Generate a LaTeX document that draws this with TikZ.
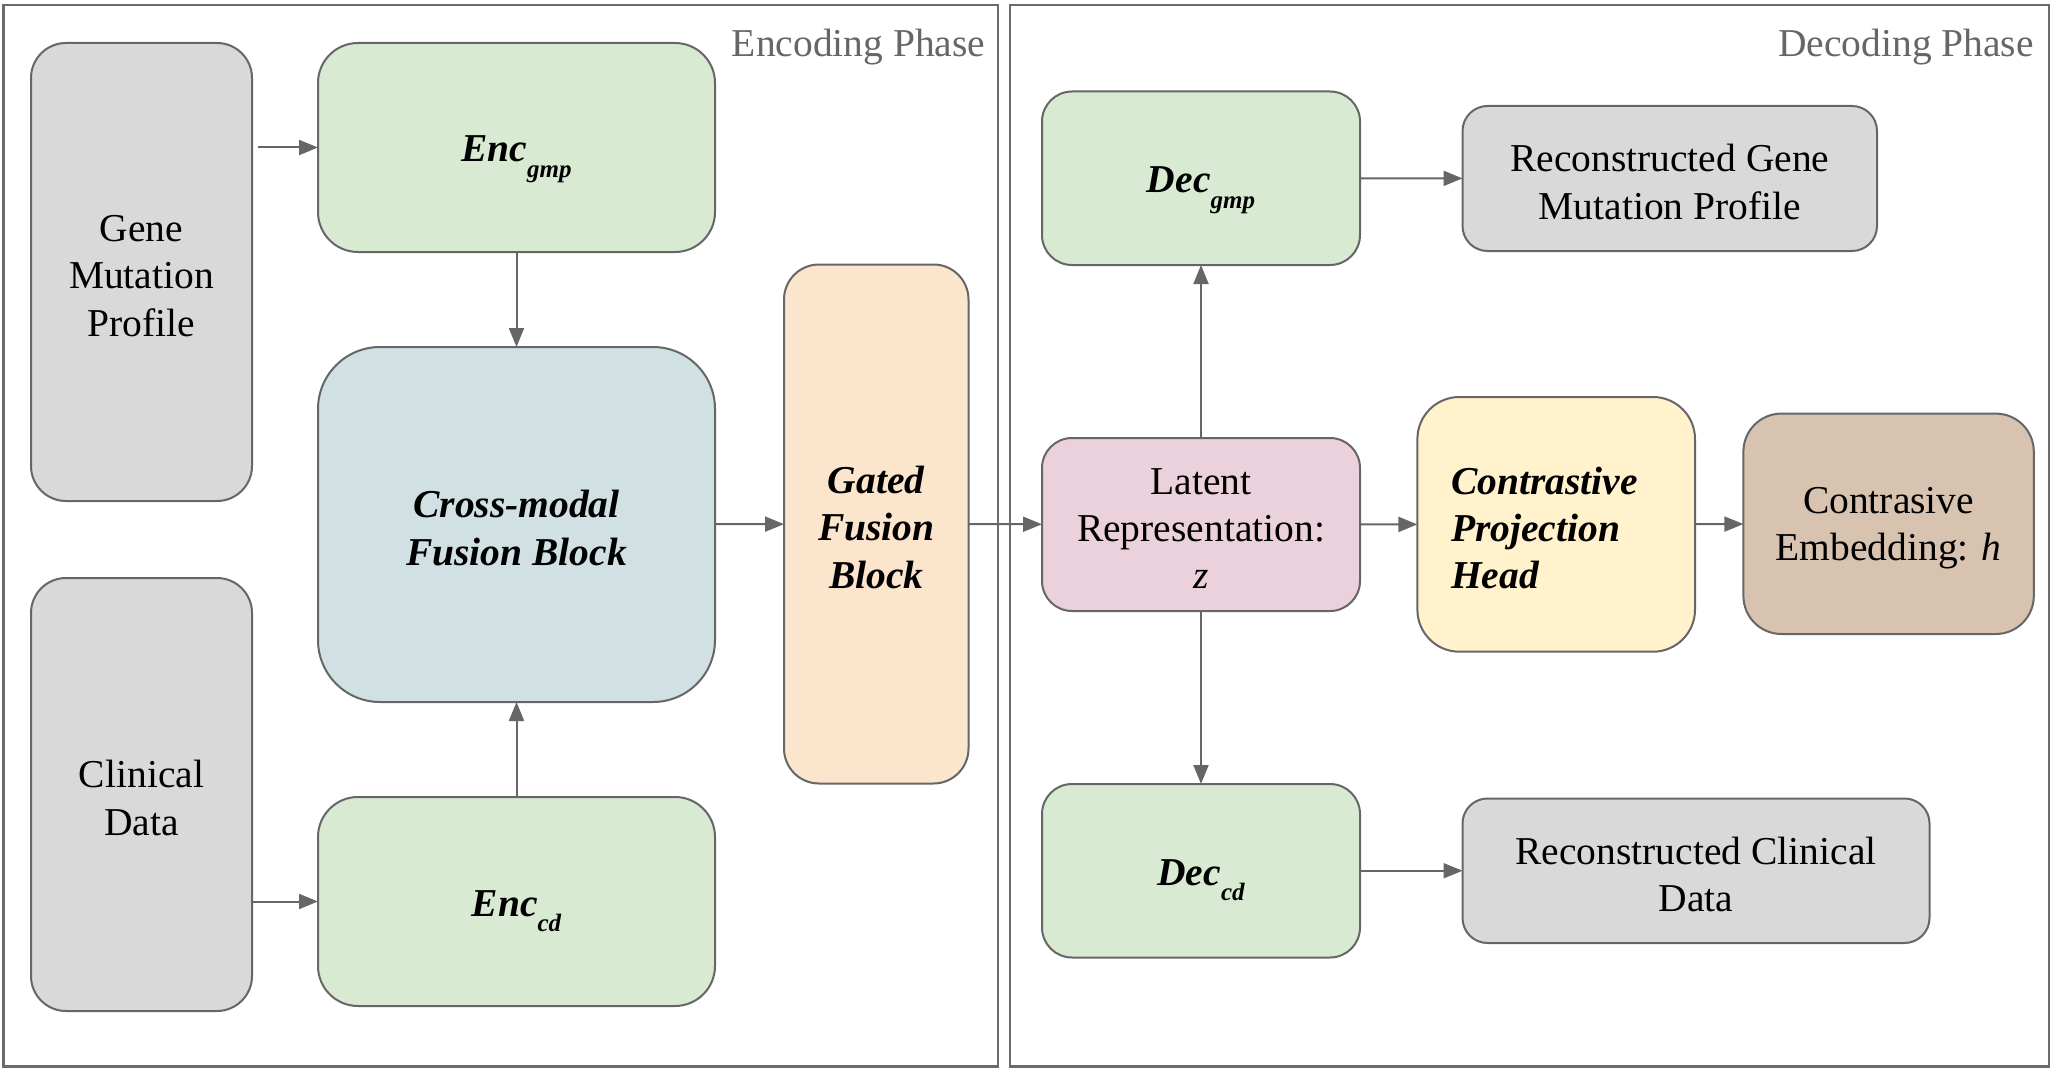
\documentclass[tikz,border=0pt]{standalone}
\usepackage{fontspec}
\setmainfont{Liberation Serif}
\usetikzlibrary{arrows.meta}
\definecolor{lnC}{HTML}{666666}
\definecolor{panelC}{HTML}{6B6B6B}
\definecolor{grayF}{HTML}{D9D9D9}
\definecolor{greenF}{HTML}{D9EAD3}
\definecolor{blueF}{HTML}{D0E0E3}
\definecolor{orangeF}{HTML}{FCE5CD}
\definecolor{pinkF}{HTML}{EAD1DC}
\definecolor{yellowF}{HTML}{FFF2CC}
\definecolor{tanF}{HTML}{D8C3B0}
\newcommand{\mysubtxt}[1]{\raisebox{-15.5pt}{\fontsize{25}{25}\selectfont #1}}
\newcommand{\firstln}{\rule{0pt}{0.87em}}
\begin{document}
\begin{tikzpicture}[x=1pt,y=-1pt,
  font=\fontsize{39.5}{47.2}\selectfont,
  box/.style={draw=lnC, line width=2pt, rectangle, inner sep=0pt, outer sep=0pt, align=center},
  bi/.style={font=\fontsize{39.5}{47.2}\selectfont\bfseries\itshape},
  encdec/.style={bi, text height=29pt, text depth=0pt},
  arr/.style={draw=lnC, line width=2pt, -{Triangle[length=19pt,width=15pt]}},
  phase/.style={text=lnC, anchor=base east, inner sep=0pt}
]
\useasboundingbox (0,0) rectangle (2054,1070);
% panels
\draw[panelC, line width=2.5pt] (3.5,5) rectangle (998,1066.5);
\draw[panelC, line width=2.5pt] (1010,5) rectangle (2049,1066.5);
\node[phase] (encph) at (985.6,57) {Encoding Phase};
\node[phase] (decph) at (2034,57) {Decoding Phase};

% encoding boxes
\node[box, fill=grayF, minimum width=221pt, minimum height=458pt, rounded corners=35pt] (gene) at (141.5,272) {\firstln Gene\\Mutation\\Profile};
\node[box, fill=greenF, minimum width=397pt, minimum height=209pt, rounded corners=40pt, encdec] (encg) at (516.5,147.5) {Enc\mysubtxt{gmp}};
\node[box, fill=blueF, minimum width=397pt, minimum height=355pt, rounded corners=62pt, bi] (cross) at (516.5,524.5) {\firstln Cross-modal\\Fusion Block};
\node[box, fill=grayF, minimum width=221pt, minimum height=433pt, rounded corners=35pt] (clin) at (141.5,794.5) {\firstln Clinical\\Data};
\node[box, fill=greenF, minimum width=397pt, minimum height=209pt, rounded corners=40pt, encdec] (encc) at (516.5,901.5) {Enc\mysubtxt{cd}};
\node[box, fill=orangeF, minimum width=184.5pt, minimum height=519pt, rounded corners=35pt, bi] (gated) at (876.25,524) {\firstln Gated\\Fusion\\Block};

% decoding boxes
\node[box, fill=greenF, minimum width=318pt, minimum height=173.5pt, rounded corners=30pt, encdec] (decg) at (1201,178.25) {Dec\mysubtxt{gmp}};
\node[box, fill=grayF, minimum width=414.5pt, minimum height=145pt, rounded corners=25pt] (recg) at (1669.75,178.5) {\firstln Reconstructed Gene\\Mutation Profile};
\node[box, fill=pinkF, minimum width=318pt, minimum height=173pt, rounded corners=30pt] (latent) at (1201,524.5) {\firstln Latent\\Representation:\\\textit{z}};
\node[box, fill=yellowF, minimum width=277.6pt, minimum height=254.7pt, rounded corners=42pt, bi, align=left, text width=210pt] (contr) at (1556.2,524.35) {\firstln Contrastive\\Projection\\Head};
\node[box, fill=tanF, minimum width=290.4pt, minimum height=220.4pt, rounded corners=38pt] (emb) at (1888.6,523.8) {\firstln Contrasive\\Embedding: \textit{h}};
\node[box, fill=greenF, minimum width=318pt, minimum height=173.5pt, rounded corners=30pt, encdec] (decc) at (1201,870.75) {Dec\mysubtxt{cd}};
\node[box, fill=grayF, minimum width=467pt, minimum height=144.5pt, rounded corners=25pt] (recc) at (1696,870.75) {\firstln Reconstructed Clinical\\Data};

% connectors
\draw[arr, shorten <=6pt] (gene.east |- encg.west) -- (encg.west);
\draw[arr] (clin.east |- encc.west) -- (encc.west);
\draw[arr] (encg) -- (cross);
\draw[arr] (encc) -- (cross);
\draw[arr] (cross) -- (gated);
\draw[arr] (gated) -- (latent);
\draw[arr] (latent) -- (decg);
\draw[arr] (latent) -- (decc);
\draw[arr] (latent) -- (contr);
\draw[arr] (contr) -- (emb);
\draw[arr] (decg) -- (recg);
\draw[arr] (decc) -- (recc);
\end{tikzpicture}
\end{document}
